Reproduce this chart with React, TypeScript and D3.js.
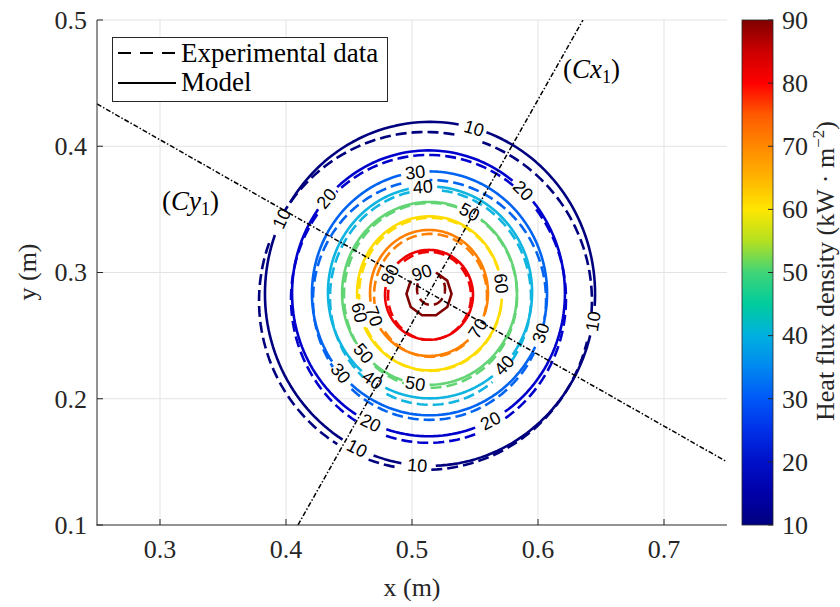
import React from "react";
import * as d3 from "d3";

// contour levels (kW/m2) and their line colours
const levels = [10, 20, 30, 40, 50, 60, 70, 80, 90];
const levelColors = ["#00007f", "#0000cc", "#0064f0", "#10b4e0", "#62d474", "#ffdc00", "#ff8000", "#ee0000", "#800000"];

// model contours, approximated as ellipses (m)
const modelCx = [0.5143, 0.5131, 0.5139, 0.5143, 0.5139, 0.5139, 0.5135, 0.5135, 0.5135];
const modelCy = [0.2831, 0.2835, 0.2835, 0.2842, 0.2835, 0.2835, 0.2838, 0.2823, 0.2831];
const modelRx = [0.131, 0.1083, 0.0933, 0.081, 0.0694, 0.0575, 0.0468, 0.0349, 0.0179];
const modelRy = [0.1362, 0.1132, 0.0966, 0.0839, 0.0724, 0.061, 0.0499, 0.0356, 0.0178];

// experimental contours
const expCx = [0.5107, 0.5131, 0.5139, 0.5147, 0.5147, 0.5147, 0.5147, 0.5139, 0.5151];
const expCy = [0.2775, 0.2791, 0.2783, 0.2803, 0.2819, 0.2827, 0.2819, 0.2815, 0.287];
const expRx = [0.1321, 0.1091, 0.0925, 0.0798, 0.0687, 0.0567, 0.0448, 0.0329, 0.0111];
const expRy = [0.1338, 0.114, 0.095, 0.0851, 0.0732, 0.0606, 0.0487, 0.0348, 0.0127];

// inline contour labels: level and angle (deg) on the model contour
const labelLevels = [10, 20, 30, 40, 50, 10, 20, 80, 90, 60, 60, 70, 70, 50, 30, 40, 50, 40, 30, 10, 20, 20, 10, 10];
const labelAngles = [74.5, 46, 97, 94, 62.8, 154, 138.4, 152.8, 109, 7.3, 194.5, 201.7, 325.8, 221, 220.9, 235.7, 260.6, 316.6, 341, 350.8, 297, 245, 243.8, 265.6];

// measurement lines
const cx1Line: [number, number][] = [[0.4095, 0.1], [0.6357, 0.5]];
const cy1Line: [number, number][] = [[0.25, 0.4335], [0.75, 0.15]];

const xTicks = [0.3, 0.4, 0.5, 0.6, 0.7];
const yTicks = [0.1, 0.2, 0.3, 0.4, 0.5];
const cbTicks = [10, 20, 30, 40, 50, 60, 70, 80, 90];

// colormap stops for the colorbar
const cmapValues = [10, 15, 20, 25, 30, 35, 40, 45, 50, 55, 60, 65, 70, 75, 80, 85, 90];
const cmapColors = ["#000080", "#0000a8", "#0010c8", "#0030e8", "#0058f8", "#0088f0", "#00b0e0", "#00cc9c", "#40d478", "#b4e020", "#ffe600", "#ffb400", "#ff8800", "#ff5a00", "#ff0000", "#cc0000", "#800000"];

const serif = "'Liberation Serif', 'Times New Roman', serif";
const sans = "'Liberation Sans', Arial, sans-serif";
const axisColor = "#262626";

const x = d3.scaleLinear().domain([0.25, 0.75]).range([97, 727]);
const y = d3.scaleLinear().domain([0.1, 0.5]).range([525, 20]);
const cb = d3.scaleLinear().domain([10, 90]).range([525, 20]);
const line = d3.line();

const TAU = Math.PI * 2;

function contourPaths(cx: number, cy: number, rx: number, ry: number, n: number, gaps: number[]) {
  const rPx = (x(cx + rx) - x(cx) + y(cy) - y(cy + ry)) / 2;
  const half = 13 / rPx;
  const pts = d3.range(n).map((k) => {
    const t = (k / n) * TAU;
    return { t, p: [x(cx + rx * Math.cos(t)), y(cy + ry * Math.sin(t))] as [number, number] };
  });
  const inGap = (t: number) =>
    gaps.some((g) => {
      let d = Math.abs(t - g) % TAU;
      d = Math.min(d, TAU - d);
      return d < half;
    });
  const flags = pts.map((d) => inGap(d.t));
  const k0 = flags.indexOf(true);
  if (k0 < 0) return [line(pts.map((d) => d.p)) + "Z"];
  const out: string[] = [];
  let run: [number, number][] = [];
  for (let i = 0; i <= n; i++) {
    const k = (k0 + i) % n;
    if (flags[k]) {
      if (run.length > 1) out.push(line(run) as string);
      run = [];
    } else run.push(pts[k].p);
  }
  if (run.length > 1) out.push(line(run) as string);
  return out;
}

export default function App() {
  const gapsFor = (lv: number) =>
    labelLevels.map((l, i) => (l === lv ? (labelAngles[i] * Math.PI) / 180 : null)).filter((v) => v !== null) as number[];

  const labels = labelLevels.map((lv, i) => {
    const j = levels.indexOf(lv);
    const t = (labelAngles[i] * Math.PI) / 180;
    const px = x(modelCx[j] + modelRx[j] * Math.cos(t));
    const py = y(modelCy[j] + modelRy[j] * Math.sin(t));
    const rxPx = x(modelCx[j] + modelRx[j]) - x(modelCx[j]);
    const ryPx = y(modelCy[j]) - y(modelCy[j] + modelRy[j]);
    let a = (Math.atan2(-ryPx * Math.cos(t), -rxPx * Math.sin(t)) * 180) / Math.PI;
    while (a >= 90) a -= 180;
    while (a < -90) a += 180;
    return { lv, px, py, a };
  });

  return (
    <svg width={840} height={607} style={{ position: "absolute", left: 0, top: 0, background: "#fff" }}>
      <defs>
        <clipPath id="plot">
          <rect x={97} y={20} width={630} height={505} />
        </clipPath>
        <linearGradient id="cmap" x1="0" y1="1" x2="0" y2="0">
          {cmapValues.map((v, i) => (
            <stop key={v} offset={(v - 10) / 80} stopColor={cmapColors[i]} />
          ))}
        </linearGradient>
      </defs>
      <rect width={840} height={607} fill="#fff" />

      {/* grid */}
      <g stroke="#e3e3e3" strokeWidth={1}>
        {xTicks.map((t) => (
          <line key={t} x1={x(t)} x2={x(t)} y1={20} y2={525} />
        ))}
        {yTicks.slice(1).map((t) => (
          <line key={t} x1={97} x2={727} y1={y(t)} y2={y(t)} />
        ))}
      </g>

      <g clipPath="url(#plot)" fill="none" strokeLinejoin="round">
        {/* model contours */}
        {levels.map((lv, j) =>
          contourPaths(modelCx[j], modelCy[j], modelRx[j], modelRy[j], lv === 90 ? 10 : 180, gapsFor(lv)).map((d, k) => (
            <path key={`m${lv}-${k}`} d={d} stroke={levelColors[j]} strokeWidth={2.6} />
          ))
        )}
        {/* experimental contours */}
        {levels.map((lv, j) =>
          contourPaths(expCx[j], expCy[j], expRx[j], expRy[j], 180, gapsFor(lv)).map((d, k) => (
            <path key={`e${lv}-${k}`} d={d} stroke={levelColors[j]} strokeWidth={2.6} strokeDasharray="11,5" />
          ))
        )}
        {/* measurement lines */}
        {[cx1Line, cy1Line].map((l, i) => (
          <path key={i} d={line(l.map((p) => [x(p[0]), y(p[1])] as [number, number])) as string}
            stroke="#000" strokeWidth={1.5} strokeDasharray="5,2,1.5,2" />
        ))}
      </g>

      {/* contour labels */}
      <g fontFamily={sans} fontSize={18} fill="#000" textAnchor="middle">
        {labels.map((l, i) => (
          <text key={i} x={l.px} y={l.py} dy="0.35em" transform={`rotate(${l.a},${l.px},${l.py})`}>
            {l.lv}
          </text>
        ))}
      </g>

      {/* line annotations */}
      <g fontFamily={serif} fontSize={27} fill="#000">
        <text x={x(0.6198)} y={y(0.4541)}>
          (<tspan fontStyle="italic">Cx</tspan>
          <tspan fontSize={18} dy={5}>1</tspan>
          <tspan dy={-5}>)</tspan>
        </text>
        <text x={x(0.3016)} y={y(0.3496)}>
          (<tspan fontStyle="italic">Cy</tspan>
          <tspan fontSize={18} dy={5}>1</tspan>
          <tspan dy={-5}>)</tspan>
        </text>
      </g>

      {/* axes */}
      <g stroke={axisColor} strokeWidth={1}>
        <line x1={97} x2={97} y1={20} y2={525.5} />
        <line x1={96.5} x2={727} y1={525} y2={525} />
        {xTicks.map((t) => (
          <line key={t} x1={x(t)} x2={x(t)} y1={525} y2={519} />
        ))}
        {yTicks.map((t) => (
          <line key={t} x1={97} x2={103} y1={y(t)} y2={y(t)} />
        ))}
      </g>
      <g fontFamily={serif} fontSize={26} fill={axisColor}>
        {xTicks.map((t) => (
          <text key={t} x={x(t)} y={558} textAnchor="middle">{t.toFixed(1)}</text>
        ))}
        {yTicks.map((t) => (
          <text key={t} x={87} y={y(t)} dy="0.34em" textAnchor="end">{t.toFixed(1)}</text>
        ))}
        <text x={412} y={596} textAnchor="middle">x (m)</text>
        <text transform="translate(36,272) rotate(-90)" textAnchor="middle">y (m)</text>
      </g>

      {/* legend */}
      <g>
        <rect x={112.5} y={37.5} width={275} height={64} fill="#fff" stroke={axisColor} strokeWidth={1} />
        <line x1={118} x2={176} y1={53} y2={53} stroke="#000" strokeWidth={2.2} strokeDasharray="13,9" />
        <line x1={118} x2={176} y1={83} y2={83} stroke="#000" strokeWidth={2.2} />
        <text x={181} y={62} fontFamily={serif} fontSize={27} fill="#000">Experimental data</text>
        <text x={181} y={91} fontFamily={serif} fontSize={27} fill="#000">Model</text>
      </g>

      {/* colorbar */}
      <rect x={742} y={20} width={31} height={505} fill="url(#cmap)" stroke={axisColor} strokeWidth={0.8} />
      <g stroke={axisColor} strokeWidth={1}>
        {cbTicks.map((t) => (
          <line key={t} x1={773} x2={768} y1={cb(t)} y2={cb(t)} />
        ))}
      </g>
      <g fontFamily={serif} fontSize={26} fill={axisColor}>
        {cbTicks.map((t) => (
          <text key={t} x={782} y={cb(t)} dy="0.34em">{t}</text>
        ))}
        <text transform="translate(834,271) rotate(-90)" textAnchor="middle">
          Heat flux density (kW · m<tspan fontSize={17} dy={-10}>−2</tspan><tspan dy={10}>)</tspan>
        </text>
      </g>
    </svg>
  );
}
